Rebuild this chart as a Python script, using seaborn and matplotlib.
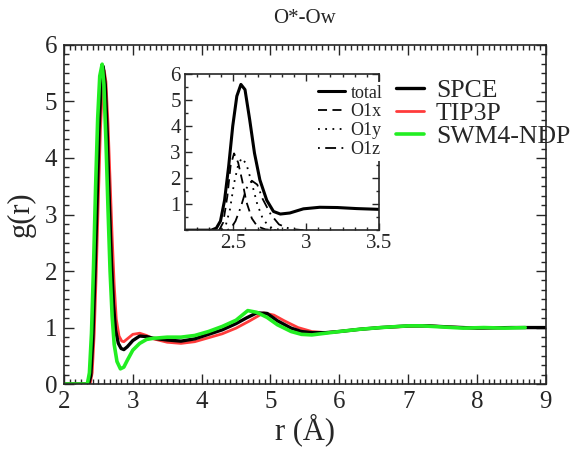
import matplotlib
matplotlib.use("Agg")
import matplotlib.pyplot as plt
from matplotlib.ticker import AutoMinorLocator, MultipleLocator, FixedLocator
from matplotlib.lines import Line2D
import seaborn as sns

# ---------------- data ----------------
spce_r = [2.0, 2.36, 2.39, 2.42, 2.45, 2.48, 2.51, 2.54, 2.57, 2.60, 2.63, 2.66, 2.69,
          2.72, 2.75, 2.79, 2.83, 2.87, 2.92, 3.0, 3.1, 3.2, 3.3, 3.5, 3.7, 3.9, 4.1,
          4.3, 4.5, 4.65, 4.8, 4.95, 5.1, 5.3, 5.45, 5.6, 5.8, 6.0, 6.3, 6.6, 7.0,
          7.3, 7.6, 8.0, 8.5, 9.0]
spce_g = [0.0, 0.0, 0.15, 0.8, 1.9, 3.2, 4.5, 5.35, 5.62, 5.3, 4.4, 3.2, 2.15,
          1.4, 0.95, 0.72, 0.63, 0.61, 0.66, 0.77, 0.85, 0.84, 0.81, 0.78, 0.76, 0.8, 0.88,
          0.96, 1.07, 1.17, 1.26, 1.25, 1.12, 0.99, 0.93, 0.91, 0.91, 0.93, 0.97, 1.0, 1.03,
          1.03, 1.01, 0.99, 1.0, 1.0]

tip3p_r = [2.0, 2.38, 2.41, 2.44, 2.47, 2.50, 2.53, 2.56, 2.585, 2.61, 2.64, 2.67, 2.70,
           2.73, 2.76, 2.80, 2.84, 2.87, 2.92, 3.0, 3.1, 3.2, 3.3, 3.5, 3.7, 3.9, 4.1,
           4.3, 4.5, 4.7, 4.9, 5.05, 5.2, 5.4, 5.6, 5.8, 6.0, 6.3, 6.6, 7.0, 7.3,
           7.6, 8.0, 8.5, 9.0]
tip3p_g = [0.0, 0.0, 0.2, 0.9, 2.0, 3.3, 4.5, 5.3, 5.55, 5.35, 4.6, 3.6, 2.6,
           1.75, 1.15, 0.85, 0.76, 0.75, 0.8, 0.88, 0.9, 0.86, 0.8, 0.74, 0.72, 0.75, 0.82,
           0.89, 0.99, 1.12, 1.26, 1.22, 1.12, 1.0, 0.93, 0.91, 0.93, 0.97, 1.0, 1.02, 1.03,
           1.01, 0.99, 1.0, 1.0]

swm4_r = [2.0, 2.34, 2.37, 2.40, 2.43, 2.46, 2.49, 2.52, 2.555, 2.58, 2.61, 2.64, 2.67,
          2.70, 2.73, 2.77, 2.82, 2.87, 2.92, 3.0, 3.1, 3.2, 3.3, 3.5, 3.7, 3.9, 4.1,
          4.3, 4.5, 4.67, 4.8, 4.95, 5.1, 5.3, 5.45, 5.6, 5.8, 6.0, 6.3, 6.6, 7.0,
          7.2, 7.5, 7.8, 8.1, 8.4, 8.7]
swm4_g = [0.0, 0.0, 0.2, 0.9, 2.1, 3.5, 4.7, 5.45, 5.66, 5.3, 4.3, 3.1, 2.0,
          1.2, 0.7, 0.4, 0.27, 0.3, 0.42, 0.6, 0.72, 0.79, 0.81, 0.83, 0.83, 0.86, 0.93,
          1.02, 1.13, 1.3, 1.27, 1.18, 1.05, 0.93, 0.88, 0.87, 0.9, 0.93, 0.97, 1.0, 1.03,
          1.03, 1.01, 0.99, 1.0, 0.99, 1.0]

# inset
tot_r = [2.17, 2.35, 2.385, 2.413, 2.441, 2.469, 2.497, 2.525, 2.553, 2.581, 2.613, 2.646,
         2.683, 2.730, 2.776, 2.823, 2.888, 2.981, 3.093, 3.214, 3.345, 3.5]
tot_g = [0.0, 0.0, 0.08, 0.35, 1.15, 2.45, 4.0, 5.15, 5.6, 5.4, 4.25, 2.96,
         1.93, 1.15, 0.72, 0.62, 0.66, 0.82, 0.88, 0.87, 0.83, 0.8]

o1x_r = [2.404, 2.432, 2.460, 2.483, 2.506, 2.534, 2.562, 2.590, 2.628, 2.665, 2.721, 2.795]
o1x_g = [0.0, 0.3, 1.3, 2.5, 2.95, 2.6, 1.9, 1.1, 0.45, 0.15, 0.03, 0.0]

o1y_r = [2.422, 2.450, 2.478, 2.506, 2.534, 2.558, 2.590, 2.628, 2.665, 2.702, 2.739, 2.776, 2.86]
o1y_g = [0.0, 0.2, 0.8, 1.8, 2.5, 2.77, 2.55, 1.8, 1.0, 0.45, 0.18, 0.05, 0.0]

o1z_r = [2.460, 2.488, 2.516, 2.553, 2.590, 2.628, 2.665, 2.702, 2.758, 2.814, 2.888, 2.981]
o1z_g = [0.0, 0.1, 0.35, 0.9, 1.6, 1.9, 1.75, 1.2, 0.6, 0.22, 0.05, 0.0]

main_labels = ["SPCE", "TIP3P", "SWM4-NDP"]
main_colors = ["black", "#ff3b3b", "#22ee22"]
inset_labels = ["total", "O1x", "O1y", "O1z"]

# ---------------- plotting ----------------
sns.set_style("ticks")
plt.rcParams['font.family'] = ['Liberation Serif', 'DejaVu Serif']

fig = plt.figure(figsize=(5.71, 4.54), dpi=100)
ax = fig.add_axes([0.112, 0.154, 0.844, 0.747])

sns.lineplot(x=tip3p_r, y=tip3p_g, ax=ax, color=main_colors[1], lw=2.0, sort=False, estimator=None)
sns.lineplot(x=spce_r, y=spce_g, ax=ax, color=main_colors[0], lw=2.4, sort=False, estimator=None)
sns.lineplot(x=swm4_r, y=swm4_g, ax=ax, color=main_colors[2], lw=2.6, sort=False, estimator=None)

ax.set_xlim(2, 9)
ax.set_ylim(0, 6)
ax.xaxis.set_major_locator(MultipleLocator(1))
ax.xaxis.set_minor_locator(AutoMinorLocator(12))
ax.yaxis.set_major_locator(MultipleLocator(1))
ax.yaxis.set_minor_locator(AutoMinorLocator(6))
ax.tick_params(which='both', direction='in', top=True, right=True, labelsize=18, width=1.0)
ax.tick_params(which='major', length=7, pad=5)
ax.tick_params(which='minor', length=3.5)
for s in ax.spines.values():
    s.set_linewidth(1.2)
ax.set_xlabel("r (Å)", fontsize=22, labelpad=0)
ax.set_ylabel("g(r)", fontsize=22, labelpad=6)
ax.set_title("O*-Ow", fontsize=15, pad=16)

handles = [Line2D([0], [0], color=c, lw=w) for c, w in zip(main_colors, [2.4, 2.0, 2.6])]
ax.legend(handles, main_labels, loc='upper left', bbox_to_anchor=(0.668, 0.93),
          frameon=False, fontsize=18.5, handlelength=1.1, handletextpad=0.45,
          labelspacing=0.0, borderaxespad=0)

# inset
ins = fig.add_axes([0.324, 0.493, 0.340, 0.344])
sns.lineplot(x=tot_r, y=tot_g, ax=ins, color='black', lw=2.2, sort=False, estimator=None)
sns.lineplot(x=o1x_r, y=o1x_g, ax=ins, color='black', lw=1.3, sort=False, estimator=None,
             linestyle=(0, (5, 3)))
sns.lineplot(x=o1y_r, y=o1y_g, ax=ins, color='black', lw=1.3, sort=False, estimator=None,
             linestyle=(0, (1, 3)))
sns.lineplot(x=o1z_r, y=o1z_g, ax=ins, color='black', lw=1.3, sort=False, estimator=None,
             linestyle=(0, (1, 3, 6, 3)))
ins.set_xlim(2.17, 3.5)
ins.set_ylim(0, 6)
ins.xaxis.set_major_locator(FixedLocator([2.5, 3.0, 3.5]))
ins.xaxis.set_minor_locator(MultipleLocator(0.5 / 6))
ins.yaxis.set_major_locator(FixedLocator([1, 2, 3, 4, 5, 6]))
ins.yaxis.set_minor_locator(MultipleLocator(0.5))
ins.set_xticklabels(["2.5", "3", "3.5"])
ins.tick_params(which='both', direction='in', top=True, right=True, labelsize=15, width=1.0)
ins.tick_params(which='major', length=5, pad=3)
ins.tick_params(which='minor', length=2.5)
for s in ins.spines.values():
    s.set_linewidth(1.2)
ih = [Line2D([0], [0], color='black', lw=2.2),
      Line2D([0], [0], color='black', lw=1.3, linestyle=(0, (5, 3))),
      Line2D([0], [0], color='black', lw=1.3, linestyle=(0, (1, 3))),
      Line2D([0], [0], color='black', lw=1.3, linestyle=(0, (1, 3, 6, 3)))]
ileg = ins.legend(ih, inset_labels, loc='upper right', bbox_to_anchor=(1.03, 0.95),
                  frameon=True, fancybox=False, framealpha=1.0, facecolor='white',
                  edgecolor='none', fontsize=13, handlelength=1.5, handletextpad=0.3,
                  labelspacing=0.1, borderaxespad=0, borderpad=0.15)
ileg.set_zorder(10)

fig.savefig("out.png", dpi=100)
